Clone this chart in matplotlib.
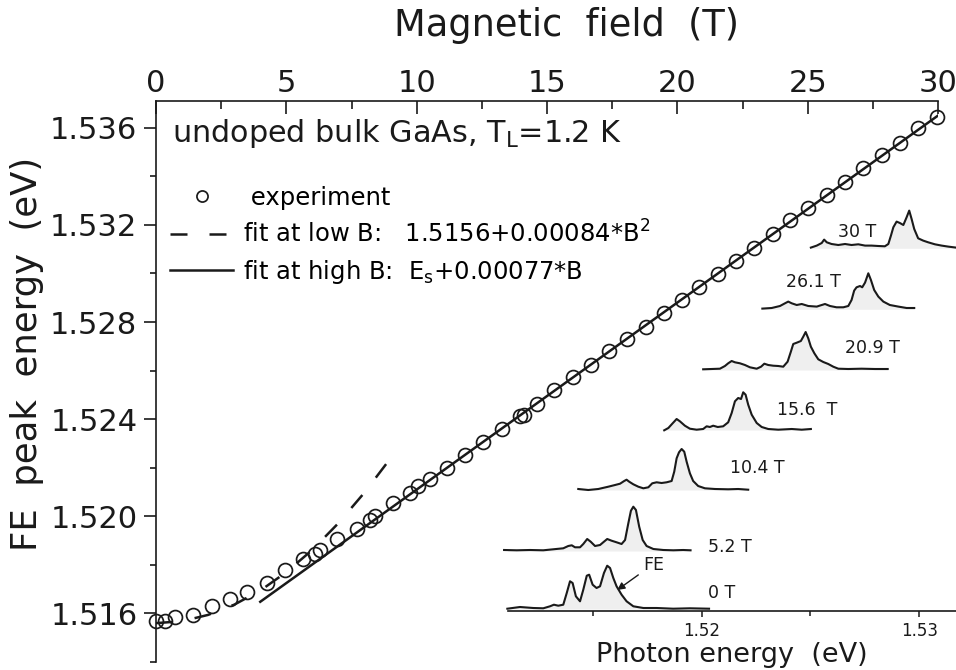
import numpy as np
import matplotlib
matplotlib.use("Agg")
import matplotlib.pyplot as plt

plt.rcParams['font.family'] = ['DejaVu Sans']
plt.rcParams['mathtext.default'] = 'regular'

INK = '#1a1a1a'
FILL = '#efefef'

# --- main panel: free exciton peak vs magnetic field ---
field_T = [0.0, 0.35, 0.73, 1.43, 2.14, 2.84, 3.48, 4.25, 4.95, 5.65, 6.10, 6.29,
           6.93, 7.70, 8.20, 8.40, 9.10, 9.74, 10.06, 10.51, 11.15, 11.85, 12.55,
           13.26, 13.96, 14.12, 14.60, 15.27, 15.98, 16.67, 17.39, 18.08, 18.80,
           19.49, 20.17, 20.82, 21.55, 22.25, 22.94, 23.66, 24.32, 25.02, 25.73,
           26.43, 27.13, 27.84, 28.54, 29.24, 29.95]
fe_peak_eV = [1.51569, 1.51569, 1.51587, 1.51594, 1.51631, 1.51658, 1.51688, 1.51727,
              1.51779, 1.51823, 1.51845, 1.51861, 1.51905, 1.51946, 1.51985, 1.52001,
              1.52056, 1.52097, 1.52124, 1.52155, 1.52200, 1.52254, 1.52305, 1.52360,
              1.52412, 1.52419, 1.52464, 1.52519, 1.52574, 1.52624, 1.52679, 1.52731,
              1.52781, 1.52837, 1.52889, 1.52946, 1.52999, 1.53053, 1.53104, 1.53162,
              1.53218, 1.53269, 1.53323, 1.53378, 1.53433, 1.53488, 1.53538, 1.53598,
              1.53643]

low_fit_B = [0, 1, 2, 3, 4, 5, 6, 7, 8, 8.85]
low_fit_E = [1.5156, 1.51568, 1.51594, 1.51636, 1.51694, 1.5177, 1.51862, 1.51972,
             1.52098, 1.52218]
high_fit_B = [4.0, 30.0]
high_fit_E = [1.51648, 1.5365]

# --- inset: PL spectra (photon energy in eV, intensity in a.u.) ---
spec_0T_E = [1.51107, 1.51165, 1.51226, 1.51272, 1.51303, 1.51321, 1.51341, 1.51364,
             1.51380, 1.51395, 1.51407, 1.51422, 1.51441, 1.51456, 1.51472, 1.51483,
             1.51499, 1.51517, 1.51533, 1.51551, 1.51566, 1.51579, 1.51594, 1.51609,
             1.51632, 1.51655, 1.51686, 1.51732, 1.51793, 1.51869, 1.51946, 1.52034]
spec_0T_I = [-0.07, 0.1, 0.0, -0.03, 0.17, 0.33, 0.23, 0.33, 1.5, 2.67, 2.5, 1.17,
             0.67, 1.83, 3.23, 3.33, 2.33, 2.0, 2.17, 3.5, 4.23, 4.0, 3.0, 2.17, 1.33,
             0.67, 0.17, 0.0, 0.0, -0.07, -0.03, -0.07]

spec_5T_E = [1.51092, 1.51150, 1.51211, 1.51272, 1.51318, 1.51364, 1.51387, 1.51403,
             1.51418, 1.51441, 1.51456, 1.51474, 1.51490, 1.51510, 1.51533, 1.51551,
             1.51566, 1.51586, 1.51609, 1.51632, 1.51648, 1.51663, 1.51675, 1.51686,
             1.51698, 1.51713, 1.51729, 1.51747, 1.51778, 1.51824, 1.51870, 1.51915,
             1.51949]
spec_5T_I = [0.0, -0.03, 0.0, -0.03, 0.07, 0.17, 0.4, 0.47, 0.27, 0.27, 0.6, 1.1,
             0.83, 0.4, 0.5, 0.83, 1.1, 0.93, 0.77, 0.6, 1.0, 2.67, 3.93, 4.33, 4.0,
             2.33, 1.0, 0.4, 0.1, 0.0, -0.03, 0.0, -0.03]

spec_10T_E = [1.51433, 1.51479, 1.51525, 1.51571, 1.51602, 1.51625, 1.51644, 1.51655,
              1.51667, 1.51686, 1.51709, 1.51732, 1.51755, 1.51773, 1.51793, 1.51816,
              1.51839, 1.51862, 1.51874, 1.51885, 1.51896, 1.51908, 1.51920, 1.51931,
              1.51946, 1.51961, 1.51984, 1.52015, 1.52061, 1.52122, 1.52168, 1.52214]
spec_10T_I = [0.0, -0.1, 0.0, 0.23, 0.4, 0.53, 0.8, 0.93, 0.73, 0.47, 0.23, 0.07,
              0.17, 0.57, 0.67, 0.6, 0.67, 0.8, 1.73, 3.07, 3.67, 4.0, 3.73, 2.73,
              1.57, 0.8, 0.3, 0.07, 0.0, -0.03, 0.0, -0.07]

spec_15T_E = [1.51828, 1.51847, 1.51865, 1.51885, 1.51900, 1.51923, 1.51946, 1.51977,
              1.52007, 1.52023, 1.52038, 1.52053, 1.52074, 1.52099, 1.52122, 1.52138,
              1.52153, 1.52168, 1.52181, 1.52191, 1.52202, 1.52214, 1.52230, 1.52253,
              1.52276, 1.52306, 1.52352, 1.52414, 1.52460, 1.52502]
spec_15T_I = [-0.13, 0.1, 0.53, 1.0, 0.77, 0.33, 0.03, -0.07, 0.0, 0.27, 0.2, 0.33,
              0.2, 0.27, 0.67, 1.6, 2.77, 3.1, 3.0, 3.67, 3.43, 2.43, 1.43, 0.6, 0.2,
              0.0, -0.07, 0.0, -0.07, 0.0]

spec_20T_E = [1.52007, 1.52046, 1.52084, 1.52107, 1.52122, 1.52138, 1.52153, 1.52176,
              1.52199, 1.52222, 1.52253, 1.52273, 1.52288, 1.52306, 1.52329, 1.52352,
              1.52375, 1.52395, 1.52410, 1.52421, 1.52437, 1.52456, 1.52467, 1.52478,
              1.52490, 1.52502, 1.52518, 1.52536, 1.52559, 1.52582, 1.52605, 1.52628,
              1.52674, 1.52735, 1.52796, 1.52855]
spec_20T_I = [-0.03, 0.0, 0.03, 0.3, 0.57, 0.8, 0.67, 0.57, 0.4, 0.17, 0.03, 0.23,
              0.53, 0.4, 0.33, 0.3, 0.23, 0.73, 1.73, 2.5, 2.63, 2.8, 3.23, 3.7, 3.07,
              2.23, 1.57, 0.97, 0.7, 0.5, 0.23, 0.03, 0.0, 0.03, 0.0, 0.0]

spec_26T_E = [1.52279, 1.52322, 1.52360, 1.52383, 1.52398, 1.52414, 1.52437, 1.52460,
              1.52490, 1.52529, 1.52552, 1.52567, 1.52590, 1.52620, 1.52651, 1.52674,
              1.52689, 1.52701, 1.52712, 1.52728, 1.52738, 1.52751, 1.52766, 1.52778,
              1.52793, 1.52812, 1.52835, 1.52865, 1.52904, 1.52942, 1.52977]
spec_26T_I = [-0.03, 0.03, 0.23, 0.5, 0.67, 0.5, 0.33, 0.43, 0.23, 0.17, 0.33, 0.43,
              0.23, 0.1, 0.1, 0.23, 0.83, 1.77, 2.1, 2.23, 2.1, 2.57, 3.5, 2.83, 1.83,
              1.17, 0.67, 0.33, 0.17, 0.03, 0.03]

spec_30T_E = [1.52502, 1.52529, 1.52552, 1.52563, 1.52575, 1.52597, 1.52628, 1.52659,
              1.52689, 1.52720, 1.52751, 1.52781, 1.52812, 1.52842, 1.52858, 1.52870,
              1.52881, 1.52896, 1.52911, 1.52927, 1.52942, 1.52954, 1.52965, 1.52977,
              1.52995, 1.53018, 1.53041, 1.53072, 1.53103, 1.53133, 1.53169]
spec_30T_I = [-0.03, 0.17, 0.43, 0.77, 0.5, 0.33, 0.23, 0.33, 0.23, 0.3, 0.17, 0.17,
              0.13, 0.1, 0.33, 1.17, 2.0, 2.57, 2.43, 2.23, 3.0, 3.67, 2.83, 1.83, 0.9,
              0.67, 0.5, 0.3, 0.17, 0.07, -0.03]

spec_labels = ['0 T', '5.2 T', '10.4 T', '15.6  T', '20.9 T', '26.1 T', '30 T']
spec_offsets = [0.27, 6.07, 12.17, 18.17, 24.17, 30.24, 36.34]

W, H = 956, 670


def fx(px):
    return px / W


def fy(py):
    return 1 - py / H


fig = plt.figure(figsize=(W / 100, H / 100), dpi=100)

# main axes (top field axis, left energy axis)
ax = fig.add_axes([fx(156), fy(662), (938 - 156) / W, (662 - 101) / H])
ax.set_xlim(0, 30)
ax.set_ylim(1.51404, 1.5371)
for side in ['right', 'bottom']:
    ax.spines[side].set_visible(False)
for side in ['top', 'left']:
    ax.spines[side].set_linewidth(1.2)
    ax.spines[side].set_color(INK)
ax.patch.set_visible(False)

ax.xaxis.set_ticks_position('top')
ax.set_xticks([0, 5, 10, 15, 20, 25, 30])
ax.set_xticks([2.5, 7.5, 12.5, 17.5, 22.5, 27.5], minor=True)
ax.set_yticks([1.516, 1.520, 1.524, 1.528, 1.532, 1.536])
ax.set_yticklabels(['1.516', '1.520', '1.524', '1.528', '1.532', '1.536'])
ax.set_yticks([1.514, 1.518, 1.522, 1.526, 1.530, 1.534], minor=True)
ax.tick_params(axis='x', which='major', direction='in', length=9, width=1.2,
               labelsize=22, pad=2.5, colors=INK)
ax.tick_params(axis='x', which='minor', direction='in', length=5.5, width=1.2,
               colors=INK)
ax.tick_params(axis='y', which='major', direction='out', length=8.4, width=1.2,
               labelsize=22, pad=5, colors=INK)
ax.tick_params(axis='y', which='minor', direction='out', length=4.5, width=1.2,
               colors=INK)

ax.plot(low_fit_B, low_fit_E, color=INK, lw=1.8, ls=(0, (6.8, 8.8)),
        label='fit at low B:   1.5156+0.00084*B$^{2}$')
ax.plot(high_fit_B, high_fit_E, color=INK, lw=1.8,
        label='fit at high B:  E$_{s}$+0.00077*B')
ax.plot(field_T, fe_peak_eV, 'o', mfc='none', mec=INK, ms=10, mew=1.25,
        clip_on=False, label=' experiment')

h, l = ax.get_legend_handles_labels()
order = [2, 0, 1]
leg = ax.legend([h[i] for i in order], [l[i] for i in order], loc='upper left',
                bbox_to_anchor=(fx(170), fy(186)), bbox_transform=fig.transFigure,
                frameon=False, fontsize=17.5, handlelength=2.6, handletextpad=0.4,
                labelspacing=0.42, borderpad=0, borderaxespad=0, numpoints=1,
                markerscale=0.8)

fig.text(fx(566), fy(25), 'Magnetic  field  (T)', ha='center', va='center',
         fontsize=26.5, color=INK)
fig.text(fx(27), fy(354), 'FE  peak  energy  (eV)', ha='center', va='center',
         rotation=90, fontsize=25.5, color=INK)
fig.text(fx(172), fy(141.7), 'undoped bulk GaAs, T$_{L}$=1.2 K', ha='left',
         va='baseline', fontsize=21.8, color=INK)

# inset with the spectra
ins = fig.add_axes([fx(508), fy(610.7), (W - 508) / W, (610.7 - 190) / H])
ins.set_xlim(1.5111, 1.53169)
ins.set_ylim(0, 42.07)
ins.patch.set_visible(False)
for side in ['top', 'right', 'left']:
    ins.spines[side].set_visible(False)
ins.spines['bottom'].set_linewidth(1.2)
ins.spines['bottom'].set_color(INK)
ins.set_yticks([])
ins.set_xticks([1.52, 1.53])
ins.set_xticklabels(['1.52', '1.53'])
ins.set_xticks([1.515, 1.525], minor=True)
ins.tick_params(axis='x', which='major', direction='out', length=4.5, width=1.1,
                labelsize=12, pad=3.5, colors=INK)
ins.tick_params(axis='x', which='minor', direction='out', length=3.5, width=1.1,
                colors=INK)
ins.set_xlabel('Photon energy  (eV)', fontsize=19.5, labelpad=1.5, color=INK)

spectra = [(spec_0T_E, spec_0T_I), (spec_5T_E, spec_5T_I), (spec_10T_E, spec_10T_I),
           (spec_15T_E, spec_15T_I), (spec_20T_E, spec_20T_I),
           (spec_26T_E, spec_26T_I), (spec_30T_E, spec_30T_I)]
for (e, inten), off in zip(spectra, spec_offsets):
    e = np.array(e)
    y = off + np.array(inten)
    ins.fill_between(e, off - 0.1, y, color=FILL, lw=0)
    ins.plot(e, y, color=INK, lw=1.5, clip_on=False)

label_pos = [(1.52029, 1.77), (1.5203, 6.4), (1.5213, 14.27), (1.52345, 20.07),
             (1.52659, 26.27), (1.52386, 32.9), (1.52625, 37.9)]
for txt, (px_, py_) in zip(spec_labels, label_pos):
    ins.text(px_, py_, txt, ha='left', va='center', fontsize=12.5, color=INK)

ins.annotate('FE', xy=(1.51612, 2.07), xytext=(1.51732, 4.57), ha='left',
             va='center', fontsize=12.5, color=INK,
             arrowprops=dict(arrowstyle='-|>', color=INK, lw=1.0,
                             mutation_scale=11, relpos=(0, 0.15),
                             shrinkA=2, shrinkB=0))

fig.savefig('out.png', dpi=100)
